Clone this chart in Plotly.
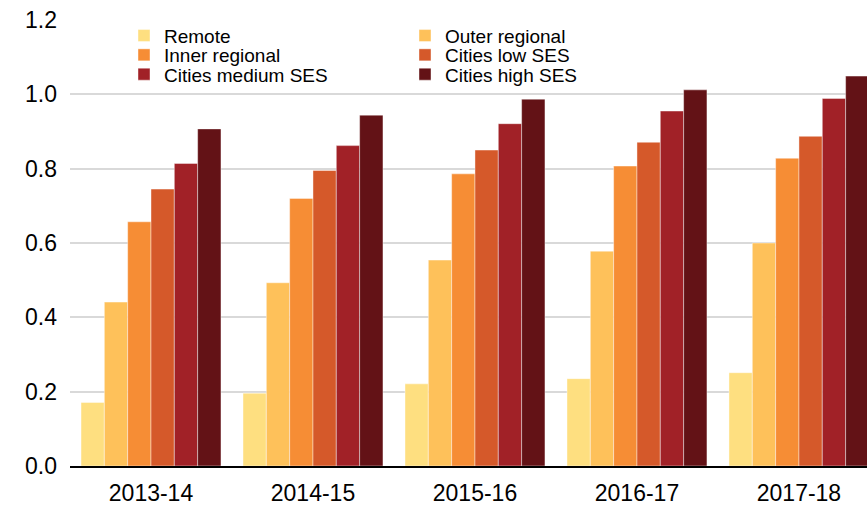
import plotly.graph_objects as go

years = ["2013-14", "2014-15", "2015-16", "2016-17", "2017-18"]

remote = [0.171, 0.196, 0.221, 0.235, 0.251]
outer_regional = [0.441, 0.493, 0.554, 0.578, 0.600]
inner_regional = [0.657, 0.720, 0.786, 0.807, 0.828]
cities_low = [0.745, 0.795, 0.850, 0.871, 0.887]
cities_medium = [0.814, 0.862, 0.921, 0.955, 0.989]
cities_high = [0.907, 0.944, 0.987, 1.012, 1.049]

series = [
    ("Remote", remote, "#FEDF80", "legend"),
    ("Outer regional", outer_regional, "#FEC15A", "legend"),
    ("Inner regional", inner_regional, "#F68D35", "legend2"),
    ("Cities low SES", cities_low, "#D5592A", "legend2"),
    ("Cities medium SES", cities_medium, "#A12127", "legend3"),
    ("Cities high SES", cities_high, "#631216", "legend3"),
]

fig = go.Figure()
for name, vals, color, leg in series:
    fig.add_trace(go.Bar(
        x=years, y=vals, name=name,
        marker=dict(color=color, line=dict(color="rgba(255,255,255,0.6)", width=0.7)),
        legend=leg,
    ))

font = "Liberation Sans, Arial, sans-serif"
# plot area: 70..867 px wide, 20..466 px tall
plot_w, plot_h = 797, 446
leg_common = dict(
    orientation="h", xref="paper", yref="paper",
    xanchor="left", yanchor="middle",
    entrywidth=236, entrywidthmode="pixels",
    font=dict(family=font, size=19, color="#000000"),
    bgcolor="rgba(0,0,0,0)", itemclick=False,
)
leg_x = (124 - 70) / plot_w
rows_y = [35.7, 55.0, 74.3]

fig.update_layout(
    width=867, height=507,
    margin=dict(l=70, r=0, t=20, b=41),
    paper_bgcolor="white", plot_bgcolor="white",
    barmode="group", bargap=0.136, bargroupgap=0,
    font=dict(family=font, color="#000000"),
    legend=dict(x=leg_x, y=(466 - rows_y[0]) / plot_h, **leg_common),
    legend2=dict(x=leg_x, y=(466 - rows_y[1]) / plot_h, **leg_common),
    legend3=dict(x=leg_x, y=(466 - rows_y[2]) / plot_h, **leg_common),
)

fig.update_xaxes(
    range=[-0.5, 4.42], automargin=False,
    showline=True, linecolor="#000000", linewidth=1.5,
    showgrid=False, ticks="",
    tickfont=dict(size=23), ticklabelstandoff=6,
)
fig.update_yaxes(
    range=[0, 1.2], dtick=0.2, tickformat=".1f", automargin=False,
    showgrid=True, gridcolor="#D9D9D9", gridwidth=1.5,
    zeroline=False, showline=False, ticks="",
    tickfont=dict(size=23), ticklabelstandoff=12,
)

# drop the page's default body margin so the figure sits at the window corner
fig.write_html(
    "out.html",
    config={"displayModeBar": False},
    post_script="document.body.style.margin='0';",
)
